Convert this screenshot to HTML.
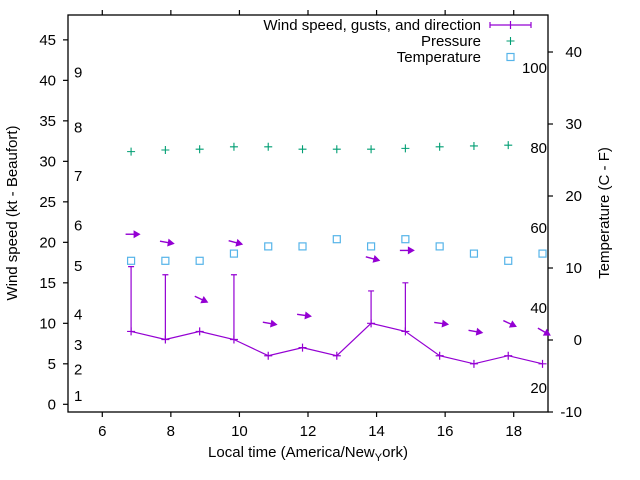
<!DOCTYPE html>
<html><head><meta charset="utf-8"><style>
html,body{margin:0;padding:0;background:#fff}
svg{display:block;font-family:"Liberation Sans",Arial,sans-serif}
</style></head><body>
<svg id="chart" width="640" height="480" viewBox="0 0 640 480" xmlns="http://www.w3.org/2000/svg">
<rect width="640" height="480" fill="#fff"/>
<g id="axes"></g><g id="series"></g><g id="legend"></g>
</svg>
<script>
const times=[6.84,7.84,8.84,9.84,10.84,11.84,12.84,13.84,14.84,15.84,16.84,17.84,18.84];
const windSpeed=[9,8,9,8,6,7,6,10,9,6,5,6,5];
const windGust=[17,16,null,16,null,null,null,14,15,null,null,null,null];
const windDir=[270,280,295,285,280,278,null,285,270,278,280,295,300];
const pressure=[31.2,31.4,31.5,31.8,31.8,31.5,31.5,31.5,31.6,31.8,31.9,32.0,null];
const temperature=[11,11,11,12,13,13,14,13,14,13,12,11,12];
const xTicks=[6,8,10,12,14,16,18];
const yTicks=[0,5,10,15,20,25,30,35,40,45];
const y2Ticks=[-10,0,10,20,30,40];
const beaufortLabels=[[1,1.0],[2,4.3],[3,7.3],[4,11.1],[5,17.1],[6,22.1],[7,28.2],[8,34.2],[9,41.0]];
const fahrenheitLabels=[20,40,60,80,100];

const L=68,R=548,T=15,B=412;
const X=v=>L+(v-5)/(19-5)*(R-L);
const Y=v=>B-(v+0.95)/(48.07+0.95)*(B-T);
const Y2=v=>B-(v+10)/(45.14+10)*(B-T);
const NS="http://www.w3.org/2000/svg";
function mk(tag,at,parent,txt){const e=document.createElementNS(NS,tag);for(const k in at)e.setAttribute(k,at[k]);if(txt!==undefined)e.textContent=txt;parent.appendChild(e);return e;}
const ax=document.getElementById('axes'),sr=document.getElementById('series'),lg=document.getElementById('legend');
const WC="#9400d3",PC="#009e73",TC="#56b4e9";

let b=mk('rect',{x:L,y:T,width:R-L,height:B-T,fill:'none',stroke:'#000','stroke-width':1.3},ax);

xTicks.forEach(t=>{
 const x=X(t);
 let l=mk('path',{d:`M${x},${B}v5M${x},${T}v-5`,stroke:'#000','stroke-width':1.2},ax);
 
 let tx=mk('text',{x:x,y:B+24,'text-anchor':'middle','font-size':15},ax,String(t));
 
});
yTicks.forEach(t=>{
 const y=Y(t);
 let l=mk('path',{d:`M${L},${y}h-5`,stroke:'#000','stroke-width':1.2},ax);
 
 let tx=mk('text',{x:L-12,y:y+5,'text-anchor':'end','font-size':15},ax,String(t));
 
});
y2Ticks.forEach(t=>{
 const y=Y2(t);
 let l=mk('path',{d:`M${R},${y}h5`,stroke:'#000','stroke-width':1.2},ax);
 
 let tx=mk('text',{x:R+34,y:y+5,'text-anchor':'end','font-size':15},ax,String(t));
 
});
beaufortLabels.forEach(([n,v])=>{
 let tx=mk('text',{x:74,y:Y(v)+5,'font-size':15},ax,String(n));
 
});
fahrenheitLabels.forEach(f=>{
 let tx=mk('text',{x:547,y:Y2((f-32)*5/9)+5,'text-anchor':'end','font-size':15},ax,String(f));
 
});
let yt=mk('text',{x:0,y:0,transform:`translate(17,213) rotate(-90)`,'text-anchor':'middle','font-size':15},ax,'Wind speed (kt - Beaufort)');

let y2t=mk('text',{x:0,y:0,transform:`translate(609,213) rotate(-90)`,'text-anchor':'middle','font-size':15},ax,'Temperature (C - F)');

let xt=mk('text',{x:308,y:457,'text-anchor':'middle','font-size':15},ax,'Local time (America/New');

mk('tspan',{'font-size':11,dy:4},xt,'Y');mk('tspan',{dy:-4},xt,'ork)');

// wind line
let d='';times.forEach((t,i)=>{d+=(i?'L':'M')+X(t)+','+Y(windSpeed[i]);});
let wl=mk('path',{d:d,fill:'none',stroke:WC,'stroke-width':1.2},sr);

times.forEach((t,i)=>{
 const x=X(t),y=Y(windSpeed[i]);
 let p=mk('path',{d:`M${x-4},${y}h8M${x},${y-4}v8`,stroke:WC,'stroke-width':1.2},sr);
 
 if(windGust[i]!=null){
  const gy=Y(windGust[i]);
  let g=mk('path',{d:`M${x},${y}V${gy}M${x-3},${gy}h6`,stroke:WC,'stroke-width':1.2},sr);
  
 }
 if(windDir[i]!=null){
  const top=Math.max(windSpeed[i],windGust[i]||0)+4;
  const ang=(windDir[i]-270)*Math.PI/180;
  const cx=x+1,cy=Y(top),len=13;
  const dx=Math.cos(ang)*len/2,dy=Math.sin(ang)*len/2;
  const x1=cx-dx,y1=cy-dy,x2=cx+dx,y2=cy+dy;
  const ux=Math.cos(ang),uy=Math.sin(ang);
  let a=mk('path',{d:`M${x1},${y1}L${x2},${y2}`,stroke:WC,'stroke-width':1.4},sr);
  
  let h=mk('path',{d:`M${x2+ux*2},${y2+uy*2}L${x2-ux*5-uy*4},${y2-uy*5+ux*4}L${x2-ux*5+uy*4},${y2-uy*5-ux*4}Z`,fill:WC},sr);
  
 }
});
times.forEach((t,i)=>{
 if(pressure[i]==null)return;
 const x=X(t),y=Y(pressure[i]);
 let p=mk('path',{d:`M${x-4},${y}h8M${x},${y-4}v8`,stroke:PC,'stroke-width':1.1},sr);
 
});
times.forEach((t,i)=>{
 const x=X(t),y=Y2(temperature[i]);
 let p=mk('rect',{x:x-3.5,y:y-3.5,width:7,height:7,fill:'none',stroke:TC,'stroke-width':1.2},sr);
 
});
// legend
const ly=[25,41,57];
let t1=mk('text',{x:481,y:ly[0]+5,'text-anchor':'end','font-size':15},lg,'Wind speed, gusts, and direction');

let s1=mk('path',{d:`M490,${ly[0]}h41M490,${ly[0]-3}v6M531,${ly[0]-3}v6M510.5,${ly[0]-4}v8`,stroke:WC,'stroke-width':1.2},lg);

let t2=mk('text',{x:481,y:ly[1]+5,'text-anchor':'end','font-size':15},lg,'Pressure');

let s2=mk('path',{d:`M506.5,${ly[1]}h8M510.5,${ly[1]-4}v8`,stroke:PC,'stroke-width':1.1},lg);

let t3=mk('text',{x:481,y:ly[2]+5,'text-anchor':'end','font-size':15},lg,'Temperature');

let s3=mk('rect',{x:507,y:ly[2]-3.5,width:7,height:7,fill:'none',stroke:TC,'stroke-width':1.2},lg);

</script>
</body></html>
